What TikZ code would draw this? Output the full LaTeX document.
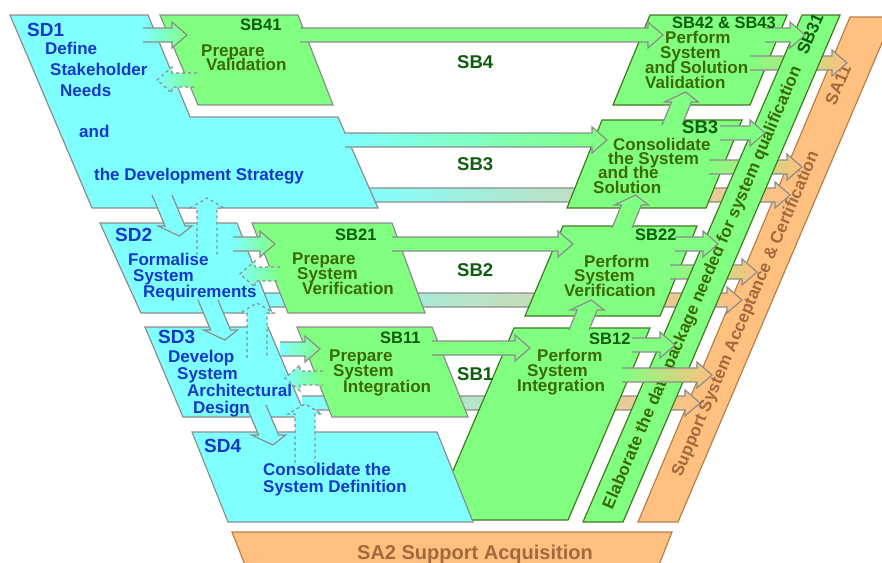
\documentclass[tikz,border=0pt]{standalone}
\usepackage{fontspec}
\setmainfont{Liberation Sans}
\lineskiplimit=-100pt
\definecolor{sdfill}{HTML}{80FFFF}
\definecolor{sbfill}{HTML}{80FF80}
\definecolor{safill}{HTML}{FFC080}
\definecolor{edgegray}{HTML}{8C8C8C}
\definecolor{edgegreen}{HTML}{427A22}
\definecolor{edgeorange}{HTML}{B8804A}
\definecolor{sdtext}{HTML}{1538CC}
\definecolor{sbtext}{HTML}{3A6A00}
\definecolor{sblabel}{HTML}{0C5E0C}
\definecolor{satext}{HTML}{A26A3C}
\tikzset{
  sdbox/.style={fill=sdfill, draw=edgegray, line width=1.2pt},
  sbbox/.style={fill=sbfill, draw=edgegray, line width=1.2pt},
  sbrbox/.style={fill=sbfill, draw=edgegreen, line width=1.2pt},
  sabox/.style={fill=safill, draw=edgeorange, line width=1.2pt},
  edge/.style={draw=edgegray, line width=1.2pt},
  cgfill/.style={left color=sdfill, right color=sbfill},
  gofill/.style={left color=sbfill, right color=safill},
  cofill/.style={left color=sdfill, right color=safill},
  ggfill/.style={fill=sbfill},
  ccfill/.style={fill=sdfill},
  lbl/.style={inner sep=0pt, anchor=base west, align=left},
  sdlab/.style={lbl, text=sdtext, font=\fontsize{19}{19}\selectfont\bfseries},
  sdtxt/.style={lbl, text=sdtext, font=\fontsize{17}{#1}\selectfont\bfseries},
  sdtxt/.default=17,
  sblab/.style={lbl, text=sblabel, font=\fontsize{16.5}{16.5}\selectfont\bfseries},
  sbtxt/.style={lbl, text=sbtext, font=\fontsize{17}{#1}\selectfont\bfseries},
  sbtxt/.default=15,
  midlab/.style={lbl, text=sblabel, font=\fontsize{18.5}{18.5}\selectfont\bfseries},
  bartxt/.style={inner sep=0pt, font=\fontsize{17}{17}\selectfont\bfseries}
}
% horizontal block arrow: [outline]{fill}{x tail}{x tip}{y}
\newcommand{\blockarrow}[5][]{%
  \pgfmathsetmacro\headb{#4-15*sign(#4-#3)}%
  \path[#2] (#3,#5-7) -- (\headb,#5-7) -- (\headb,#5-13) -- (#4,#5)
    -- (\headb,#5+13) -- (\headb,#5+7) -- (#3,#5+7) -- cycle;
  \draw[edge,#1] (#3,#5-7) -- (\headb,#5-7) -- (\headb,#5-13) -- (#4,#5)
    -- (\headb,#5+13) -- (\headb,#5+7) -- (#3,#5+7);}
% slanted up/down arrow: [outline]{fill}{x tail}{y tail}{y tip}{slant}
\newcommand{\slantarrow}[6][]{%
  \pgfmathsetmacro\heady{#5+10*sign(#4-#5)}%
  \pgfmathsetmacro\headx{#3+(\heady-#4)*(#6)}%
  \pgfmathsetmacro\tipx{#3+(#5-#4)*(#6)}%
  \path[#2] (#3-10,#4) -- (\headx-10,\heady) -- (\headx-17,\heady) -- (\tipx,#5)
    -- (\headx+17,\heady) -- (\headx+10,\heady) -- (#3+10,#4) -- cycle;
  \draw[edge,#1] (#3-10,#4) -- (\headx-10,\heady) -- (\headx-17,\heady) -- (\tipx,#5)
    -- (\headx+17,\heady) -- (\headx+10,\heady) -- (#3+10,#4);}
\begin{document}
\begin{tikzpicture}[x=1pt,y=-1pt]
  \useasboundingbox (0,0) rectangle (882,562);
  \clip (0,0) rectangle (882,562);
  % support bars
  \draw[sabox] (232,532) -- (672,532) -- (655,575) -- (249,575) -- cycle;
  \draw[sabox] (850,17) -- (893,17) -- (678,522) -- (638,522) -- cycle;
  \node[bartxt, text=satext, rotate=67] (sa11) at (838,85) {SA11};
  \node[bartxt, text=satext, rotate=67] (sa1) at (746,314)
    {Support System Acceptance \& Certification};
  \node[lbl, text=satext, font=\fontsize{20}{20}\selectfont\bfseries] (sa2)
    at (357,559) {SA2 Support Acquisition};
  % bands from the definition side to acceptance
  \blockarrow{cofill}{360}{790}{195}
  \blockarrow{cofill}{262}{742}{300}
  \blockarrow{cofill}{302}{700}{403}
  % right branch
  \draw[sbrbox] (514,328) -- (650,328) -- (568,520) -- (432,520) -- cycle;
  \draw[sbrbox] (563,226) -- (697,226) -- (660,316) -- (525,316) -- cycle;
  \draw[sbrbox] (602,120) -- (742,120) -- (706,208) -- (567,208) -- cycle;
  \draw[sbrbox] (650,15) -- (787,15) -- (750,105) -- (613,105) -- cycle;
  \blockarrow{gofill}{750}{847}{63}
  \blockarrow{gofill}{709}{802}{167}
  \blockarrow{gofill}{670}{757}{272}
  % qualification data bar
  \draw[sbrbox] (802,15) -- (840,15) -- (623,522) -- (583,522) -- cycle;
  \node[bartxt, text=sbtext, rotate=66.8] (sb31t) at (703,288)
    {Elaborate the data package needed for system qualification};
  \node[bartxt, text=sblabel, rotate=66.8] (sb31) at (810,34) {SB31};
  \blockarrow{gofill}{622}{712}{375}
  % left branch
  \draw[sdbox] (10,15) -- (148,15) -- (190,117) -- (338,117) -- (378,208) -- (92,208) -- cycle;
  \draw[sdbox] (100,223) -- (237,223) -- (272,313) -- (141,313) -- cycle;
  \draw[sdbox] (145,327) -- (268,327) -- (306,417) -- (183,417) -- cycle;
  \draw[sdbox] (192,432) -- (437,432) -- (473,522) -- (228,522) -- cycle;
  \draw[sbbox] (160,15) -- (298,15) -- (333,105) -- (198,105) -- cycle;
  \draw[sbbox] (252,223) -- (392,223) -- (425,313) -- (288,313) -- cycle;
  \draw[sbbox] (297,327) -- (432,327) -- (468,417) -- (332,417) -- cycle;
  % across the V
  \blockarrow{cgfill}{143}{187}{35}
  \blockarrow[dashed]{cgfill}{197}{157}{80}
  \blockarrow{ggfill}{300}{663}{35}
  \blockarrow{cgfill}{345}{607}{140}
  \blockarrow{cgfill}{233}{275}{244}
  \blockarrow[dashed]{cgfill}{280}{240}{274}
  \blockarrow{ggfill}{392}{573}{244}
  \blockarrow{cgfill}{280}{320}{349}
  \blockarrow[dashed]{cgfill}{323}{285}{378}
  \blockarrow{ggfill}{432}{530}{348}
  % into the data bar
  \blockarrow{ggfill}{765}{805}{35}
  \blockarrow{ggfill}{720}{765}{133}
  \blockarrow{ggfill}{675}{718}{244}
  \blockarrow{ggfill}{632}{675}{345}
  % up the right branch
  \slantarrow{ggfill}{672}{125}{92}{-0.41}
  \slantarrow{ggfill}{622}{228}{195}{-0.41}
  \slantarrow{ggfill}{579}{330}{300}{-0.41}
  % down and back on the left branch
  \slantarrow{ccfill}{162}{195}{236}{0.42}
  \slantarrow{ccfill}{208}{300}{340}{0.42}
  \slantarrow{ccfill}{256}{405}{445}{0.42}
  \slantarrow[dashed]{ccfill}{207}{255}{198}{0}
  \slantarrow[dashed]{ccfill}{257}{358}{303}{0}
  \slantarrow[dashed]{ccfill}{305}{463}{404}{0}
  % labels (multi-line blocks sit on their last baseline)
  \node[sdlab] (sd1) at (27,36) {SD1};
  \node[sdtxt=21] (sd1t) at (45,96) {Define\\\hspace*{5pt}Stakeholder\\\hspace*{15pt}Needs};
  \node[sdtxt] (sd1and) at (79,137) {and};
  \node[sdtxt] (sd1s) at (94,180) {the Development Strategy};
  \node[sdlab] (sd2) at (115,241) {SD2};
  \node[sdtxt=16] (sd2t) at (128,297) {Formalise\\\hspace*{5pt}System\\\hspace*{15pt}Requirements};
  \node[sdlab] (sd3) at (158,343) {SD3};
  \node[sdtxt=16.7] (sd3t) at (168,413) {Develop\\\hspace*{9pt}System\\\hspace*{19pt}Architectural\\\hspace*{25pt}Design};
  \node[sdlab] (sd4) at (204,452) {SD4};
  \node[sdtxt=17] (sd4t) at (263,492) {Consolidate the\\System Definition};
  \node[sblab] (sb41) at (240,30) {SB41};
  \node[sbtxt=14] (sb41t) at (201,70) {Prepare\\\hspace*{5pt}Validation};
  \node[sblab] (sb21) at (335,240) {SB21};
  \node[sbtxt=15] (sb21t) at (292,294) {Prepare\\\hspace*{5pt}System\\\hspace*{10pt}Verification};
  \node[sblab] (sb11) at (380,343) {SB11};
  \node[sbtxt=15.5] (sb11t) at (329,392) {Prepare\\\hspace*{4pt}System\\\hspace*{14pt}Integration};
  \node[midlab] (sb4) at (457,68) {SB4};
  \node[midlab] (sb3) at (457,170) {SB3};
  \node[midlab] (sb2) at (457,276) {SB2};
  \node[midlab] (sb1) at (457,380) {SB1};
  \node[sblab] (sb4243) at (672,28) {SB42 \& SB43};
  \node[sbtxt=14.7] (sb4243t) at (645,88) {\hspace*{20pt}Perform\\\hspace*{15pt}System\\and Solution\\Validation};
  \node[midlab] (sb3r) at (682,133) {SB3};
  \node[sbtxt=14.3] (sb3t) at (593,193) {\hspace*{20pt}Consolidate\\\hspace*{15pt}the System\\\hspace*{5pt}and the\\Solution};
  \node[sblab] (sb22) at (635,240) {SB22};
  \node[sbtxt=14.5] (sb22t) at (564,296) {\hspace*{20pt}Perform\\\hspace*{10pt}System\\Verification};
  \node[sblab] (sb12) at (589,344) {SB12};
  \node[sbtxt=15] (sb12t) at (517,391) {\hspace*{20pt}Perform\\\hspace*{10pt}System\\Integration};
\end{tikzpicture}
\end{document}
